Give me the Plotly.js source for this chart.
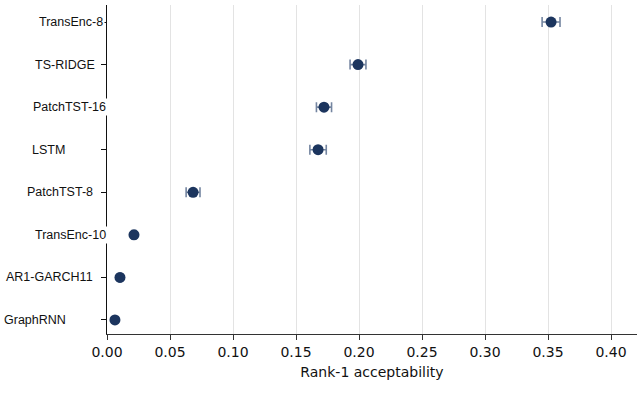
<!DOCTYPE html>
<html><head><meta charset="utf-8">
<script src="https://cdn.plot.ly/plotly-3.0.1.min.js"></script>
<style>html,body{margin:0;padding:0;background:#fff}</style>
</head><body><div id="chart" style="width:644px;height:406px"></div>
<script>
const models = ["GraphRNN","AR1-GARCH11","TransEnc-10","PatchTST-8","LSTM","PatchTST-16","TS-RIDGE","TransEnc-8"];
const acceptability = [0.0063,0.0103,0.0214,0.0683,0.1675,0.1722,0.1992,0.3524];
const errors = [0.0008,0.001,0.0015,0.0055,0.0065,0.006,0.0063,0.0071];
// horizontal pixel shift of each category label (style only)
const labelShift = [-39,-12,1,-12,-40,1,-10,-2];

const annotations = models.map((m,i)=>({
  text:m, xref:"paper", yref:"y", x:0, y:m, xanchor:"right", yanchor:"middle",
  xshift:labelShift[i], showarrow:false, bgcolor:"#fff", borderpad:1,
  font:{family:"Liberation Sans, Arial", size:12.5, color:"#111"}
}));

Plotly.newPlot("chart",[{
  type:"scatter", mode:"markers",
  x:acceptability, y:models,
  error_x:{type:"data", array:errors, visible:true, color:"#7485a0", thickness:1.6, width:5},
  marker:{color:"#1c355e", size:11}
}],{
  width:644, height:406,
  margin:{l:107, r:7, t:5, b:72},
  paper_bgcolor:"#fff", plot_bgcolor:"#fff",
  showlegend:false,
  annotations:annotations,
  xaxis:{range:[0,0.4206], dtick:0.05, tickformat:".2f", showgrid:true, gridcolor:"#e3e3e3", gridwidth:1,
    zeroline:false, showline:true, linecolor:"#333", linewidth:1.3, ticks:"outside", ticklen:5, tickcolor:"#333",
    tickfont:{family:"DejaVu Sans", size:14, color:"#111"},
    title:{text:"Rank-1 acceptability", font:{family:"DejaVu Sans", size:14, color:"#111"}, standoff:8}},
  yaxis:{type:"category", range:[-0.33,7.4], showgrid:false, zeroline:false, showline:true, linecolor:"#111", linewidth:1.3,
    ticks:"outside", ticklen:5, tickcolor:"#111", showticklabels:false}
},{displayModeBar:false});
</script></body></html>
